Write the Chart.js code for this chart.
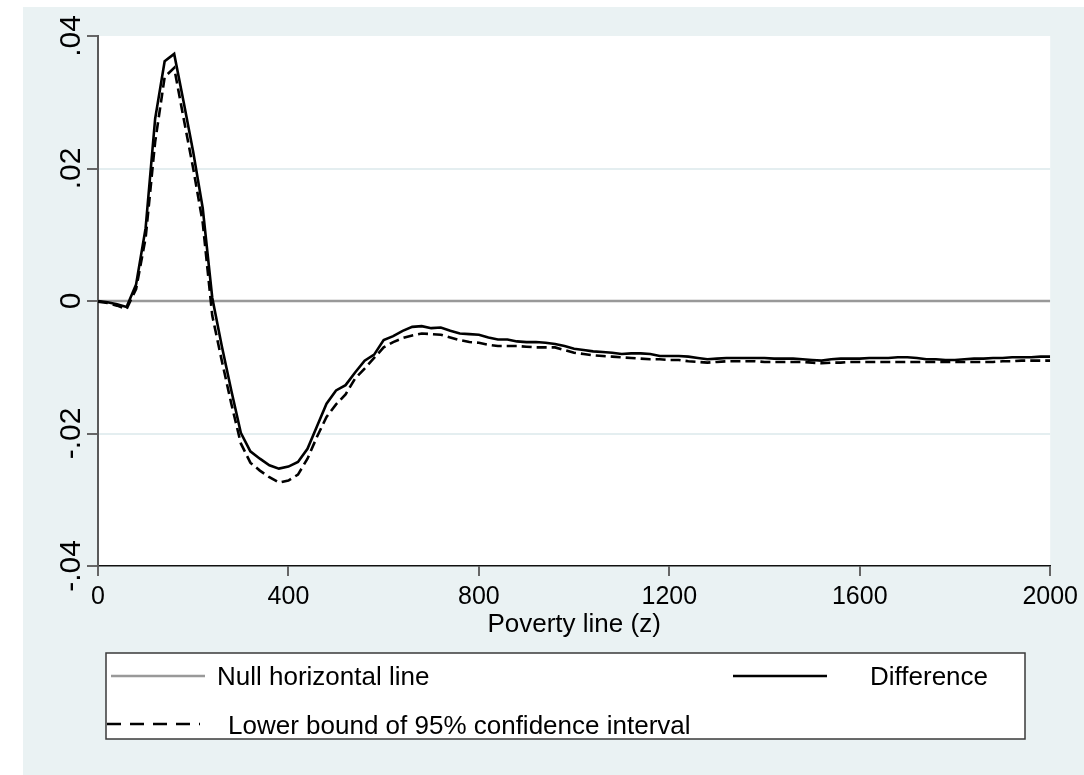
<!DOCTYPE html>
<html>
<head>
<meta charset="utf-8">
<title>Difference and lower bound</title>
<script src="https://cdn.jsdelivr.net/npm/chart.js@4.4.1/dist/chart.umd.min.js"></script>
<style>
  html, body { margin: 0; padding: 0; background: #ffffff; }
  #wrap { position: relative; width: 1084px; height: 775px; }
</style>
</head>
<body>
<div id="wrap"><canvas id="graficoPobreza" width="1084" height="775"></canvas></div>
<script>
// poverty line z, step 20
const povertyLine = [
  0, 20, 40, 60, 80, 100, 120, 140, 160, 180,
  200, 220, 240, 260, 280, 300, 320, 340, 360, 380,
  400, 420, 440, 460, 480, 500, 520, 540, 560, 580,
  600, 620, 640, 660, 680, 700, 720, 740, 760, 780,
  800, 820, 840, 860, 880, 900, 920, 940, 960, 980,
  1000, 1020, 1040, 1060, 1080, 1100, 1120, 1140, 1160, 1180,
  1200, 1220, 1240, 1260, 1280, 1300, 1320, 1340, 1360, 1380,
  1400, 1420, 1440, 1460, 1480, 1500, 1520, 1540, 1560, 1580,
  1600, 1620, 1640, 1660, 1680, 1700, 1720, 1740, 1760, 1780,
  1800, 1820, 1840, 1860, 1880, 1900, 1920, 1940, 1960, 1980,
  2000
];

const difference = [
  0, -0.0002, -0.0005, -0.0009, 0.0025, 0.0110, 0.0275, 0.0362, 0.0373, 0.0300,
  0.0225, 0.0140, 0.0005, -0.0068, -0.0135, -0.0199, -0.0227, -0.0238, -0.0248, -0.0253,
  -0.0250, -0.0243, -0.0223, -0.0189, -0.0155, -0.0135, -0.0127, -0.0108, -0.0090, -0.0081,
  -0.0059, -0.0053, -0.0045, -0.0039, -0.0038, -0.0041, -0.0040, -0.0045, -0.0049, -0.0050,
  -0.0051, -0.0055, -0.0058, -0.0058, -0.0061, -0.0062, -0.0062, -0.0063, -0.0065, -0.0068,
  -0.0072, -0.0074, -0.0076, -0.0077, -0.0078, -0.0080, -0.0079, -0.0079, -0.0080, -0.0083,
  -0.0083, -0.0083, -0.0084, -0.0086, -0.0088, -0.0087, -0.0086, -0.0086, -0.0086, -0.0086,
  -0.0086, -0.0087, -0.0087, -0.0087, -0.0088, -0.0089, -0.0090, -0.0088, -0.0087, -0.0087,
  -0.0087, -0.0086, -0.0086, -0.0086, -0.0085, -0.0085, -0.0086, -0.0088, -0.0088, -0.0089,
  -0.0089, -0.0088, -0.0087, -0.0087, -0.0086, -0.0086, -0.0085, -0.0085, -0.0085, -0.0084,
  -0.0084
];

const lowerBound = [
  -0.0001, -0.0003, -0.0007, -0.0012, 0.0018, 0.0095, 0.0240, 0.0338, 0.0352, 0.0275,
  0.0200, 0.0118, -0.0022, -0.0090, -0.0155, -0.0215, -0.0244, -0.0256, -0.0266, -0.0274,
  -0.0271, -0.0262, -0.0238, -0.0205, -0.0175, -0.0156, -0.0141, -0.0117, -0.0102, -0.0086,
  -0.0070, -0.0062, -0.0056, -0.0052, -0.0049, -0.0050, -0.0051, -0.0055, -0.0059, -0.0062,
  -0.0063, -0.0066, -0.0068, -0.0068, -0.0068, -0.0069, -0.0070, -0.0070, -0.0070, -0.0074,
  -0.0078, -0.0080, -0.0082, -0.0083, -0.0084, -0.0085, -0.0086, -0.0087, -0.0088, -0.0088,
  -0.0089, -0.0089, -0.0091, -0.0092, -0.0093, -0.0092, -0.0091, -0.0091, -0.0091, -0.0091,
  -0.0092, -0.0092, -0.0092, -0.0092, -0.0092, -0.0093, -0.0094, -0.0093, -0.0093, -0.0092,
  -0.0092, -0.0092, -0.0092, -0.0092, -0.0092, -0.0092, -0.0092, -0.0092, -0.0092, -0.0092,
  -0.0092, -0.0092, -0.0092, -0.0092, -0.0092, -0.0091, -0.0091, -0.0090, -0.0090, -0.0090,
  -0.0090
];

const nullLineX = [0, 2000];
const nullLineY = [0, 0];

const yTickValues = [-0.04, -0.02, 0, 0.02, 0.04];
const yTickLabels = ['-.04', '-.02', '0', '.02', '.04'];
const xTickLabels = ['0', '400', '800', '1200', '1600', '2000'];

const FONT = '"Liberation Sans", Arial, Helvetica, sans-serif';

function toPoints(xs, ys) {
  return xs.map(function (x, i) { return { x: x, y: ys[i] }; });
}

// stata-like background: light bluish gray, white plot region
const fondo = {
  id: 'fondo',
  beforeDraw: function (chart) {
    const ctx = chart.ctx;
    const a = chart.chartArea;
    ctx.save();
    ctx.fillStyle = '#ffffff';
    ctx.fillRect(0, 0, chart.width, chart.height);
    ctx.fillStyle = '#eaf2f3';
    ctx.fillRect(23, 7, chart.width - 23, chart.height - 7);
    ctx.fillStyle = '#ffffff';
    ctx.fillRect(a.left, a.top, a.right - a.left, a.bottom - a.top);
    ctx.restore();
  }
};

// rotated y labels, reading upwards
const etiquetasY = {
  id: 'etiquetasY',
  afterDraw: function (chart) {
    const ctx = chart.ctx;
    const y = chart.scales.y;
    ctx.save();
    ctx.fillStyle = '#000000';
    ctx.font = '30px ' + FONT;
    ctx.textAlign = 'center';
    ctx.textBaseline = 'alphabetic';
    yTickValues.forEach(function (v, i) {
      ctx.save();
      ctx.translate(80, y.getPixelForValue(v));
      ctx.rotate(-Math.PI / 2);
      ctx.fillText(yTickLabels[i], 0, 0);
      ctx.restore();
    });
    ctx.restore();
  }
};

// boxed legend in two columns
const leyenda = {
  id: 'leyenda',
  afterDraw: function (chart) {
    const ctx = chart.ctx;
    const ds = chart.data.datasets;
    const box = { left: 106, top: 653, right: 1025, bottom: 739 };
    ctx.save();
    ctx.fillStyle = '#ffffff';
    ctx.fillRect(box.left, box.top, box.right - box.left, box.bottom - box.top);
    ctx.strokeStyle = '#3a3a3a';
    ctx.lineWidth = 1.5;
    ctx.strokeRect(box.left, box.top, box.right - box.left, box.bottom - box.top);

    const items = [
      { d: ds[0], x0: 111, x1: 205, y: 676, tx: 217, ty: 678 },
      { d: ds[1], x0: 733, x1: 827, y: 676, tx: 870, ty: 678 },
      { d: ds[2], x0: 107, x1: 200, y: 724, tx: 228, ty: 727 }
    ];
    items.forEach(function (it) {
      ctx.beginPath();
      ctx.strokeStyle = it.d.borderColor;
      ctx.lineWidth = it.d.borderWidth;
      ctx.setLineDash(it.d.borderDash && it.d.borderDash.length ? [14, 9] : []);
      ctx.moveTo(it.x0, it.y);
      ctx.lineTo(it.x1, it.y);
      ctx.stroke();
      ctx.setLineDash([]);
      ctx.fillStyle = '#000000';
      ctx.font = '26px ' + FONT;
      ctx.textAlign = 'left';
      ctx.textBaseline = 'middle';
      ctx.fillText(it.d.label, it.tx, it.ty);
    });
    ctx.restore();
  }
};

const ctx = document.getElementById('graficoPobreza');
new Chart(ctx, {
  type: 'line',
  data: {
    datasets: [{
      label: 'Null horizontal line',
      data: toPoints(nullLineX, nullLineY),
      borderColor: '#999999',
      borderWidth: 2.5,
      pointRadius: 0,
      tension: 0,
      order: 3
    }, {
      label: 'Difference',
      data: toPoints(povertyLine, difference),
      borderColor: '#000000',
      borderWidth: 2.6,
      pointRadius: 0,
      tension: 0,
      order: 2
    }, {
      label: 'Lower bound of 95% confidence interval',
      data: toPoints(povertyLine, lowerBound),
      borderColor: '#000000',
      borderWidth: 2.6,
      borderDash: [10, 5],
      pointRadius: 0,
      tension: 0,
      order: 1
    }]
  },
  options: {
    responsive: false,
    animation: false,
    events: [],
    layout: { padding: { left: 0, top: 36, right: 32, bottom: 135 } },
    plugins: {
      legend: { display: false },
      tooltip: { enabled: false }
    },
    scales: {
      x: {
        type: 'linear',
        min: 0,
        max: 2000,
        afterFit: function (scale) { scale.height = 74; },
        afterBuildTicks: function (scale) {
          scale.ticks = xTickLabels.map(function (t) { return { value: Number(t) }; });
        },
        ticks: {
          color: '#000000',
          padding: 6,
          maxRotation: 0,
          font: { family: FONT, size: 25 },
          callback: function (v) { return String(v); }
        },
        grid: {
          drawOnChartArea: false,
          drawTicks: true,
          tickLength: 10,
          tickColor: '#666666',
          lineWidth: 2
        },
        border: { display: true, color: '#111111', width: 1.5 },
        title: {
          display: true,
          text: 'Poverty line (z)',
          color: '#000000',
          padding: 0,
          font: { family: FONT, size: 26 }
        }
      },
      y: {
        min: -0.04,
        max: 0.04,
        afterFit: function (scale) { scale.width = 98; },
        afterBuildTicks: function (scale) {
          scale.ticks = yTickValues.map(function (v) { return { value: v }; });
        },
        ticks: { display: false },
        grid: {
          color: function (c) {
            return (c.tick && (c.tick.value === 0.04 || c.tick.value === -0.04)) ? 'rgba(0,0,0,0)' : '#e4eef0';
          },
          lineWidth: 2,
          drawTicks: true,
          tickLength: 11,
          tickColor: '#666666'
        },
        border: { display: true, color: '#5a5a5a', width: 2 }
      }
    }
  },
  plugins: [fondo, etiquetasY, leyenda]
});
</script>
</body>
</html>
